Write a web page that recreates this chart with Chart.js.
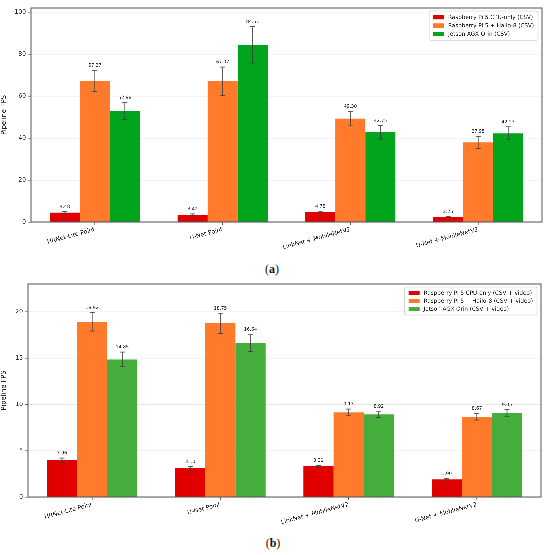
<!DOCTYPE html>
<html>
<head>
<meta charset="utf-8">
<script src="https://cdn.jsdelivr.net/npm/chart.js@4.4.1/dist/chart.umd.min.js"></script>
<style>
  html, body { margin:0; padding:0; background:#fff; }
  #wrap { position:relative; width:550px; height:555px; background:#fff; overflow:hidden; }
  .box { position:absolute; left:0; width:550px; }
  .lab { position:absolute; width:40px; text-align:center; font-family:"Liberation Serif","DejaVu Serif",serif; font-size:12px; color:#111; line-height:14px; }
  .lab b { font-weight:bold; }
</style>
</head>
<body>
<div id="wrap">
  <div class="box" style="top:0;height:262px;"><canvas id="c1"></canvas></div>
  <div class="lab" style="left:252px;top:262px;">(<b>a</b>)</div>
  <div class="box" style="top:275px;height:255px;"><canvas id="c2"></canvas></div>
  <div class="lab" style="left:253px;top:536px;">(<b>b</b>)</div>
</div>
<script>
// ---------- data ----------
const categories = ["HRNet-Lite Point", "U-Net Point", "LinkNet + MobileNetV2", "U-Net + MobileNetV2"];

// (a) CSV only
const seriesA = ["Raspberry Pi 5 CPU-only (CSV)", "Raspberry Pi 5 + Hailo-8 (CSV)", "Jetson AGX Orin (CSV)"];
const cpuA      = [4.48, 3.42, 4.78, 2.25];
const cpuAErr   = [0.5, 0.4, 0.4, 0.3];
const hailoA    = [67.27, 67.07, 49.30, 37.95];
const hailoAErr = [5.0, 6.8, 3.5, 2.9];
const orinA     = [52.98, 84.51, 42.75, 42.23];
const orinAErr  = [4.0, 8.7, 3.2, 3.1];
const ticksA    = [0, 20, 40, 60, 80, 100];

// (b) CSV + video
const seriesB = ["Raspberry Pi 5 CPU-only (CSV + video)", "Raspberry Pi 5 + Hailo-8 (CSV + video)", "Jetson AGX Orin (CSV + video)"];
const cpuB      = [3.96, 3.10, 3.31, 1.90];
const cpuBErr   = [0.25, 0.2, 0.12, 0.07];
const hailoB    = [18.92, 18.75, 9.13, 8.67];
const hailoBErr = [1.0, 1.1, 0.37, 0.36];
const orinB     = [14.85, 16.64, 8.92, 9.05];
const orinBErr  = [0.8, 0.95, 0.35, 0.4];
const ticksB    = [0, 5, 10, 15, 20];

// ---------- styling ----------
const RED = "#e00000", ORANGE = "#ff7a2a", GREEN_A = "#00a51c", GREEN_B = "#44ad3c";
const FONT = "'DejaVu Sans', sans-serif";

const errorBarPlugin = {
  id: "errbars",
  afterDatasetsDraw(chart) {
    const ctx = chart.ctx, ys = chart.scales.y;
    ctx.save();
    chart.data.datasets.forEach((ds, i) => {
      const meta = chart.getDatasetMeta(i);
      meta.data.forEach((bar, j) => {
        const v = ds.data[j], e = ds.errors[j];
        const yt = ys.getPixelForValue(v + e), yb = ys.getPixelForValue(v - e);
        ctx.strokeStyle = "rgba(60,60,60,0.85)";
        ctx.lineWidth = 0.9;
        ctx.beginPath();
        ctx.moveTo(bar.x, yt); ctx.lineTo(bar.x, yb);
        ctx.moveTo(bar.x - 2.5, yt); ctx.lineTo(bar.x + 2.5, yt);
        ctx.moveTo(bar.x - 2.5, yb); ctx.lineTo(bar.x + 2.5, yb);
        ctx.stroke();
        ctx.fillStyle = "#222";
        ctx.font = "4.6px " + FONT;
        ctx.textAlign = "center";
        ctx.textBaseline = "bottom";
        ctx.fillText(v.toFixed(2), bar.x, yt - 2.5);
      });
    });
    ctx.restore();
  }
};

const framePlugin = {
  id: "frame",
  afterDraw(chart) {
    const a = chart.chartArea, ctx = chart.ctx;
    ctx.save();
    ctx.strokeStyle = "#555";
    ctx.lineWidth = 1;
    ctx.strokeRect(a.left, a.top, a.right - a.left, a.bottom - a.top);
    ctx.restore();
  }
};

const legendBoxPlugin = {
  id: "legendbox",
  afterDraw(chart, args, opts) {
    const a = chart.chartArea, ctx = chart.ctx;
    const dss = chart.data.datasets;
    ctx.save();
    ctx.font = "5.6px " + FONT;
    let maxW = 0;
    dss.forEach(d => { maxW = Math.max(maxW, ctx.measureText(d.label).width); });
    const sw = 11, gap = 4, padX = 4, rowH = opts.rowH;
    const w = padX + sw + gap + maxW + padX;
    const h = rowH * dss.length + 4;
    const x = a.right - opts.dx - w, y = a.top + opts.dy;
    ctx.fillStyle = "rgba(255,255,255,0.85)";
    ctx.strokeStyle = "#d0d0d0";
    ctx.lineWidth = 0.8;
    ctx.beginPath();
    ctx.roundRect(x, y, w, h, 1.5);
    ctx.fill(); ctx.stroke();
    dss.forEach((d, i) => {
      const cy = y + 2 + rowH * (i + 0.5);
      ctx.fillStyle = d.backgroundColor;
      ctx.fillRect(x + padX, cy - 2.2, sw, 4.4);
      ctx.fillStyle = "#222";
      ctx.textAlign = "left";
      ctx.textBaseline = "middle";
      ctx.fillText(d.label, x + padX + sw + gap, cy + 0.3);
    });
    ctx.restore();
  }
};

function makeChart(id, labels, vals, errs, colors, yMax, ticks, geom) {
  const datasets = vals.map((v, i) => ({
    label: labels[i], data: v, errors: errs[i],
    backgroundColor: colors[i], borderWidth: 0,
    barPercentage: 1.0, categoryPercentage: 0.705
  }));
  return new Chart(document.getElementById(id), {
    type: "bar",
    data: { labels: categories, datasets },
    plugins: [errorBarPlugin, framePlugin, legendBoxPlugin],
    options: {
      responsive: true, maintainAspectRatio: false, animation: false,
      devicePixelRatio: 3,
      layout: { padding: { left: 0, right: geom.right, top: geom.top, bottom: 0 } },
      plugins: {
        legend: { display: false }, tooltip: { enabled: false },
        legendbox: { dx: 4, dy: geom.legDy, rowH: geom.rowH }
      },
      scales: {
        x: {
          grid: { display: true, drawOnChartArea: false, offset: false, tickColor: "#555", tickLength: 3, lineWidth: 0.8 },
          border: { display: false },
          ticks: { color: "#222", font: { family: FONT, size: 6 }, maxRotation: 15, minRotation: 15, padding: 1, autoSkip: false },
          afterFit(s) { s.height = geom.xh; }
        },
        y: {
          min: 0, max: yMax,
          afterBuildTicks(s) { s.ticks = ticks.map(v => ({ value: v })); },
          grid: { color: "rgba(200,200,200,0.45)", lineWidth: 0.7, tickColor: "#555", tickLength: 3 },
          border: { display: false },
          ticks: { color: "#222", font: { family: FONT, size: 6 }, padding: 2 },
          title: { display: true, text: "Pipeline FPS", color: "#222", font: { family: FONT, size: 6.6 }, padding: { top: 0, bottom: 1 } },
          afterFit(s) { s.width = geom.yw; }
        }
      }
    }
  });
}

makeChart("c1", seriesA, [cpuA, hailoA, orinA], [cpuAErr, hailoAErr, orinAErr],
  [RED, ORANGE, GREEN_A], 102, ticksA,
  { right: 8, top: 8, xh: 40, yw: 31, legDy: 3, rowH: 8.4 });

makeChart("c2", seriesB, [cpuB, hailoB, orinB], [cpuBErr, hailoBErr, orinBErr],
  [RED, ORANGE, GREEN_B], 23, ticksB,
  { right: 9, top: 9, xh: 33, yw: 28, legDy: 3, rowH: 8 });
</script>
</body>
</html>
